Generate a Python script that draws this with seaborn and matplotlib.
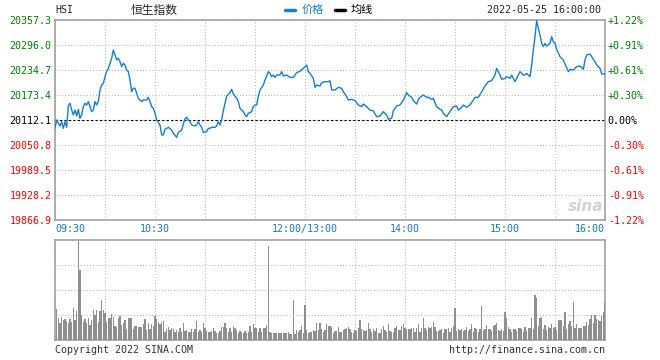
import numpy as np
import pandas as pd
import seaborn as sns
import matplotlib.pyplot as plt
from matplotlib.lines import Line2D

# =====================================================
# DATA (HSI 2022-05-25)
# =====================================================
PREV_CLOSE = 20112.1

# trading minutes since 09:30, lunch break removed (150 = 12:00/13:00, 330 = 16:00)
price_min = [
    0, 1, 2, 3, 4, 5, 6, 7, 8, 9, 10, 11, 12, 13, 14, 15, 16, 17, 18, 19,
    20, 21, 22, 23, 24, 25, 26, 27, 28, 29, 30, 31, 32, 33, 34, 35, 36, 37, 38, 39,
    40, 41, 42, 43, 44, 45, 46, 47, 48, 49, 50, 51, 52, 53, 55, 56, 57, 58, 59, 60,
    61, 63, 64, 65, 66, 67, 68, 70, 71, 73, 74, 76, 77, 78, 79, 80, 81, 82, 84, 85,
    86, 87, 88, 89, 91, 92, 93, 94, 96, 97, 98, 99, 100, 101, 102, 103, 105, 106, 107, 109,
    110, 111, 112, 113, 114, 115, 116, 118, 119, 120, 121, 122, 123, 125, 126, 127, 128, 129, 130, 131,
    132, 133, 135, 136, 137, 139, 141, 143, 145, 147, 149,
    151, 152, 153, 155, 156, 157, 159, 160, 162, 164, 165, 166, 168, 170, 172, 173, 175, 176, 178, 180,
    182, 184, 185, 187, 189, 191, 193, 195, 197, 199, 200, 202, 203, 205, 207, 209, 211, 212, 214, 215,
    217, 218, 219, 221, 223, 224, 226, 227, 229, 231, 232, 233, 235, 236, 237, 239, 241, 242, 244, 245,
    247, 249, 251, 252, 254, 256, 258, 260, 262, 264, 265, 267, 268, 270, 271, 273, 274, 276, 277, 278,
    279, 281, 282, 283, 285, 286, 287, 288, 289, 290, 291, 292, 293, 294, 295, 297, 298, 299, 300, 301,
    303, 305, 306, 308, 309, 311, 313, 315, 317, 318, 319, 321, 323, 324, 325, 327, 328, 330,
]

price = [
    20091.7, 20112.1, 20104.0, 20097.4, 20108.0, 20091.7, 20108.0, 20094.2, 20147.3, 20153.0,
    20136.7, 20124.4, 20136.7, 20122.0, 20138.3, 20116.2, 20124.4, 20144.8, 20153.0, 20148.9,
    20157.1, 20144.8, 20132.6, 20136.7, 20157.1, 20148.9, 20157.1, 20185.7, 20198.0, 20202.0,
    20218.4, 20230.7, 20238.8, 20251.1, 20263.3, 20283.8, 20271.5, 20259.3, 20263.3, 20255.2,
    20242.9, 20251.1, 20247.0, 20234.7, 20230.7, 20210.2, 20181.6, 20189.8, 20189.8, 20177.5,
    20165.3, 20161.2, 20157.1, 20161.2, 20161.2, 20167.7, 20157.1, 20144.8, 20140.7, 20128.5,
    20112.1, 20099.9, 20075.4, 20075.4, 20089.3, 20091.7, 20094.2, 20087.6, 20079.5, 20069.6,
    20081.1, 20087.6, 20102.3, 20114.6, 20118.7, 20112.1, 20108.0, 20099.9, 20097.4, 20099.9,
    20108.0, 20099.9, 20094.2, 20081.9, 20083.5, 20091.7, 20091.7, 20094.2, 20094.2, 20097.4,
    20108.0, 20099.9, 20112.1, 20135.0, 20153.0, 20171.0, 20179.2, 20187.3, 20175.9, 20165.3,
    20157.1, 20140.7, 20136.7, 20132.6, 20124.4, 20120.3, 20128.5, 20132.6, 20144.8, 20148.9,
    20148.9, 20171.0, 20185.7, 20198.0, 20210.2, 20220.0, 20230.7, 20226.6, 20218.4, 20222.5,
    20216.8, 20222.5, 20222.5, 20230.7, 20220.0, 20222.5, 20216.8, 20216.8, 20228.2, 20231.5,
    20238.8,
    20246.9, 20230.6, 20226.5, 20214.3, 20192.2, 20197.9, 20195.5, 20203.6, 20206.1, 20206.1,
    20208.5, 20185.7, 20185.7, 20192.2, 20189.7, 20181.6, 20169.3, 20161.1, 20162.8, 20159.5,
    20148.9, 20144.8, 20151.3, 20144.8, 20136.6, 20134.2, 20120.3, 20121.9, 20132.5, 20124.4,
    20113.7, 20116.2, 20135.0, 20146.4, 20148.9, 20161.1, 20179.1, 20173.4, 20167.7, 20159.5,
    20151.3, 20162.8, 20167.7, 20173.4, 20167.7, 20167.7, 20162.8, 20165.2, 20144.8, 20138.3,
    20136.6, 20128.4, 20120.3, 20126.8, 20132.5, 20144.8, 20146.4, 20136.6, 20143.2, 20148.9,
    20143.2, 20148.9, 20161.1, 20167.7, 20167.7, 20181.6, 20195.5, 20206.1, 20208.5, 20222.4,
    20238.8, 20222.4, 20211.8, 20214.3, 20218.3, 20214.3, 20222.4, 20206.1, 20214.3, 20222.4,
    20230.6, 20222.4, 20222.4, 20226.5, 20218.3, 20246.9, 20283.7, 20316.4, 20355.6, 20336.8,
    20320.5, 20300.1, 20291.9, 20300.1, 20293.5, 20300.1, 20316.4, 20304.2, 20300.1, 20285.4,
    20267.4, 20259.2, 20249.4, 20230.6, 20236.3, 20234.7, 20242.9, 20244.5, 20236.3, 20259.2,
    20271.5, 20273.9, 20260.8, 20255.1, 20246.9, 20238.8, 20224.9, 20224.9,
]

# per-minute volume, in chart units (panel top = 100), minutes 1..164 and 165..330
volume_am = [
    31, 21.7, 16.7, 23.3, 20, 21, 19, 16.7, 21, 17.7,
    32.3, 20, 29, 99, 70, 25, 17.7, 21, 16.7, 21.7,
    15, 20, 30, 25, 30, 17.7, 29, 40, 30, 27.3,
    18.3, 21.7, 21.7, 26, 22.7, 14, 12.7, 21.7, 24, 15,
    17.3, 20, 10.7, 21.7, 21.7, 21.7, 10.7, 14.3, 14.3, 12.7,
    13.3, 12.7, 15.7, 20.7, 10, 16.7, 10.7, 15.7, 14, 24,
    20.7, 17.7, 16, 18.3, 19, 8.3, 10.7, 13.3, 10, 11.7,
    10.7, 8.3, 10, 8.3, 11.7, 8.3, 16.7, 9, 10, 8.3,
    8.3, 11, 7.7, 10.7, 19, 8.3, 10, 8.3, 16.7, 11.7,
    9.3, 8.3, 8.3, 9, 11.7, 9, 6.7, 7.3, 9.3, 13.3,
    13.3, 16.7, 11.7, 7.7, 11.7, 8.3, 14, 11.7, 10, 6.7,
    9, 7.7, 6.7, 9, 6.7, 7.7, 14.3, 8.3, 15.7, 11.7,
    11.7, 8.3, 12.3, 8.3, 11.7, 12.3, 15, 94, 7.7, 7.3,
    6.7, 7.3, 6.7, 7.3, 6.7, 7.3, 7.3, 6.7, 6.7, 8.3,
    5.7, 5.7, 40, 6, 10, 8.3, 10, 14.3, 7.3, 35,
    10, 7.3, 8.3, 8.3, 10, 9, 17.3, 10, 16.7, 10.7,
    8.3, 10, 15.7, 14.3,
]
volume_pm = [
    14, 12.7, 7.3, 9.3, 9.3, 13.3, 8.3, 8.3, 10, 10.7,
    11.7, 13.3, 10.7, 8.3, 7.3, 10, 9.3, 11.7, 20, 10.7,
    10, 9.3, 10, 17.3, 10.7, 8.3, 10.7, 9.3, 11.7, 7.3,
    6.7, 10.7, 14, 10, 8.3, 16, 9.3, 8.3, 7.3, 11.7,
    14, 10, 10, 14, 16, 11.7, 10.7, 10.7, 10.7, 11.7,
    11.7, 8.3, 11.7, 16, 8.3, 11.7, 21.7, 11.7, 10, 12.7,
    11.7, 12.7, 18.3, 12.7, 9.3, 9.3, 10, 10.7, 7.3, 10.7,
    10.7, 11.7, 8.3, 11.7, 14, 32, 9.3, 10.7, 10, 10.7,
    9.3, 10, 12.7, 9.3, 10.7, 16, 8.3, 11.7, 10.7, 8.3,
    10.7, 34, 10, 10.7, 15, 10.7, 10.7, 9.3, 14, 15,
    16.7, 10, 9.3, 10.7, 9.3, 28, 21.7, 12.7, 10.7, 8.3,
    10.7, 10.7, 9.3, 11.7, 11.7, 10.7, 8.3, 13.3, 9.3, 11.7,
    12.3, 21.7, 10.7, 45, 42, 14, 21.7, 23.3, 10.7, 15,
    10, 12.7, 11.7, 15.7, 11.7, 13.3, 10, 20, 20, 20,
    14, 28.3, 10.7, 15.7, 19, 14, 38, 11.7, 16, 11.7,
    11.7, 11.7, 14, 14, 18.3, 15, 21, 25, 16.7, 25,
    20.7, 20, 19.3, 24, 27.7, 38,
]

left_ticks = ["20357.3", "20296.0", "20234.7", "20173.4", "20112.1",
              "20050.8", "19989.5", "19928.2", "19866.9"]
right_ticks = ["+1.22%", "+0.91%", "+0.61%", "+0.30%", "0.00%",
               "-0.30%", "-0.61%", "-0.91%", "-1.22%"]
time_labels = ["09:30", "10:30", "12:00/13:00", "14:00", "15:00", "16:00"]
time_label_min = [0, 60, 150, 210, 270, 330]

# =====================================================
# STYLE
# =====================================================
W, H = 660, 360
BLUE = "#1580d2"
BLUE_TXT = "#1a78c2"
GREEN = "#008000"
RED = "#ff0000"
GRID = "#b4b4b4"
SPINE = "#9a9a9a"
FS = 7.2

sns.set_style("white")
plt.rcParams["font.family"] = ["DejaVu Sans Mono", "Noto Sans CJK SC"]


def px_rect(x0, y0, x1, y1):
    return [x0 / W, 1 - y1 / H, (x1 - x0) / W, (y1 - y0) / H]


def tick_color(i):
    # ticks run top -> bottom, the middle one is the previous close
    mid = len(left_ticks) // 2
    if i < mid:
        return GREEN
    if i > mid:
        return RED
    return "black"


fig = plt.figure(figsize=(W / 100, H / 100), dpi=100)
ax = fig.add_axes(px_rect(55, 20, 605, 220))
axv = fig.add_axes(px_rect(55, 240, 605, 340))

# =====================================================
# PRICE PANEL
# =====================================================
df = pd.DataFrame({"t": price_min, "price": price})
sns.lineplot(data=df, x="t", y="price", ax=ax, color=BLUE, linewidth=1.0, zorder=3)
ax.axhline(PREV_CLOSE, color="black", lw=0.8, ls=(0, (2, 2)), zorder=2)

ax.set_xlim(0, 330)
ax.set_ylim(float(left_ticks[-1]), float(left_ticks[0]))
ax.set_xticks(np.arange(0, 331, 30))
ax.set_xticklabels([])
ax.set_yticks([float(t) for t in left_ticks])
ax.set_yticklabels(left_ticks)
for i, lab in enumerate(ax.get_yticklabels()):
    lab.set_color(tick_color(i))
ax.tick_params(length=0, pad=2.5, labelsize=FS)
ax.grid(True, color=GRID, lw=0.75, ls=(0, (1, 2)))
ax.set_axisbelow(True)
ax.set_xlabel("")
ax.set_ylabel("")

axr = ax.twinx()
axr.set_ylim(ax.get_ylim())
axr.set_yticks([float(t) for t in left_ticks])
axr.set_yticklabels(right_ticks)
for i, lab in enumerate(axr.get_yticklabels()):
    lab.set_color(tick_color(i))
axr.tick_params(length=0, pad=2, labelsize=FS)
for s in axr.spines.values():
    s.set_visible(False)

for t, lab in zip(time_label_min, time_labels):
    ha = "left" if t == 0 else ("right" if t == 330 else "center")
    ax.text(t, -0.02, lab, transform=ax.get_xaxis_transform(), ha=ha, va="top",
            color=BLUE_TXT, fontsize=FS)

# sina watermark
ax.text(0.965, 0.07, "sina", transform=ax.transAxes, ha="center", va="center",
        fontsize=11, fontstyle="italic", fontweight="bold", color="#d2d2d2",
        family="DejaVu Sans", zorder=1)

# =====================================================
# VOLUME PANEL
# =====================================================
vol = volume_am + volume_pm
vdf = pd.DataFrame({"t": np.arange(1, len(vol) + 1), "vol": vol})
sns.barplot(data=vdf, x="t", y="vol", native_scale=True, width=0.72, color="#8f8f8f",
            saturation=1, linewidth=0, errorbar=None, ax=axv, zorder=3)
axv.set_xlim(0, 330)
axv.set_ylim(0, 100)
axv.set_xticks(np.arange(0, 331, 30))
axv.set_yticks([25, 50, 75])
axv.set_xticklabels([])
axv.set_yticklabels([])
axv.tick_params(length=0)
axv.grid(True, color=GRID, lw=0.75, ls=(0, (1, 2)))
axv.set_axisbelow(True)
axv.set_xlabel("")
axv.set_ylabel("")

for a in (ax, axv):
    for s in a.spines.values():
        s.set_color(SPINE)
        s.set_linewidth(1.1)

# =====================================================
# HEADER / FOOTER
# =====================================================
ty = 1 - 10 / H
fig.text(55 / W, ty, "HSI", fontsize=FS, ha="left", va="center")
fig.text(154 / W, ty, "恒生指数", family=["Noto Sans CJK SC"], fontsize=8.5,
         ha="center", va="center")
fig.add_artist(Line2D([285 / W, 295 / W], [ty, ty], color=BLUE, lw=2.5))
fig.text(302 / W, ty, "价格", family=["Noto Sans CJK SC"], fontsize=8,
         color=BLUE, ha="left", va="center")
fig.add_artist(Line2D([335 / W, 345 / W], [ty, ty], color="black", lw=2.5))
fig.text(351 / W, ty, "均线", family=["Noto Sans CJK SC"], fontsize=8,
         color="black", ha="left", va="center")
fig.text(601 / W, ty, "2022-05-25 16:00:00", fontsize=FS, ha="right", va="center")

fy = 1 - 350 / H
fig.text(55 / W, fy, "Copyright 2022 SINA.COM", fontsize=FS, color="#333333",
         ha="left", va="center")
fig.text(605 / W, fy, "http://finance.sina.com.cn", fontsize=FS, color="#333333",
         ha="right", va="center")

fig.savefig("out.png", dpi=100, facecolor="white")
